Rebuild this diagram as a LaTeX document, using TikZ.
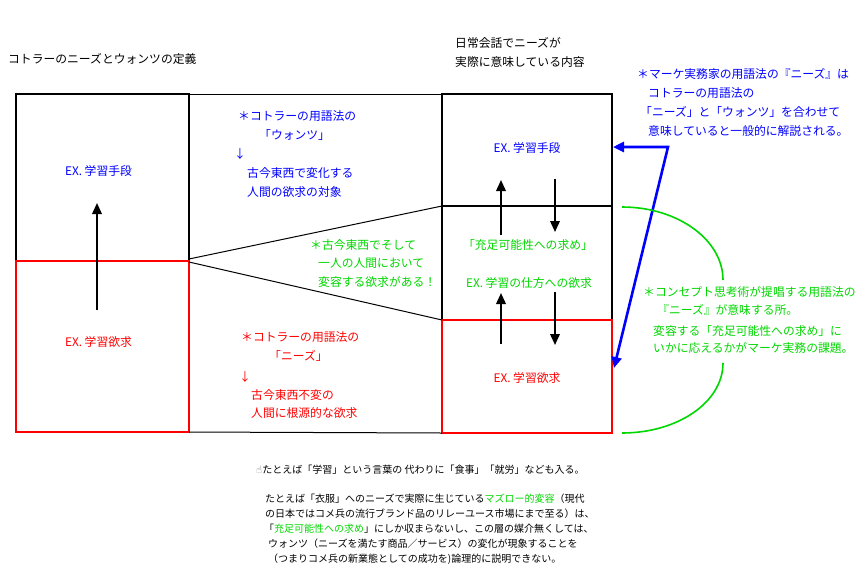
\documentclass[tikz,border=0pt]{standalone}
\usepackage{fontspec}
\setmainfont{Noto Sans CJK JP}
\newfontfamily\dejavu{DejaVu Sans}
\usetikzlibrary{arrows.meta}
\definecolor{grn}{RGB}{0,215,0}
\definecolor{blu}{RGB}{0,0,255}
\definecolor{rd}{RGB}{255,0,0}
\newcommand\fsA{\fontsize{11.8pt}{14pt}\selectfont}
\newcommand\fsB{\fontsize{10pt}{12pt}\selectfont}
\tikzset{
  box/.style={draw, line width=2pt, inner sep=0pt, outer sep=0pt},
  blk/.style={box, draw=black},
  redbox/.style={box, draw=rd},
  thin/.style={line width=1pt, black},
  uparrow/.style={line width=2pt, -{Triangle[width=9.5pt,length=11pt]}},
  bluearrow/.style={line width=2.6pt, blu, {Triangle[width=10pt,length=11pt]}-{Triangle[width=10pt,length=11pt]}},
  greenarc/.style={line width=1.6pt, grn},
  tx/.style={anchor=base west, inner sep=0pt, font=\fsA},
  tc/.style={anchor=base, inner sep=0pt, font=\fsA},
  tb/.style={anchor=base west, inner sep=0pt, font=\fsB},
}
\begin{document}
\begin{tikzpicture}[x=1pt, y=-1pt]
\useasboundingbox[fill=white] (0,0) rectangle (867,584);

% boxes
\node[blk, minimum width=173pt, minimum height=167pt] (L1) at (102.5,177.5) {};
\node[blk, minimum width=170pt, minimum height=112pt] (R1) at (527,150) {};
\node[blk, minimum width=170pt, minimum height=114pt] (R2) at (527,263) {};
\node[redbox, minimum width=173pt, minimum height=171pt] (L2) at (102.5,346.5) {};
\node[redbox, minimum width=170pt, minimum height=113pt] (R3) at (527,376.5) {};

% connecting thin lines
\draw[thin] (L1.north east) -- (R1.north west);
\draw[thin] (L2.south east) -- (R3.south west);
\draw[thin] ([yshift=2pt]L1.south east) -- (R1.south west);
\draw[thin] ([yshift=-1pt]L2.north east) -- (R3.north west);

% arrows
\coordinate (la0) at (97,310); \coordinate (la1) at (97,203);
\draw[uparrow] (la0) -- (la1);
\coordinate (u1a) at (501,235); \coordinate (u1b) at (501,180);
\coordinate (d1a) at (555,179); \coordinate (d1b) at (555,232);
\coordinate (u2a) at (501,344); \coordinate (u2b) at (501,293);
\coordinate (d2a) at (555,292); \coordinate (d2b) at (555,345);
\draw[uparrow] (u1a) -- (u1b);
\draw[uparrow] (d1a) -- (d1b);
\draw[uparrow] (u2a) -- (u2b);
\draw[uparrow] (d2a) -- (d2b);

% blue double arrow
\coordinate (bt) at (613,147);
\coordinate (bc) at (668,147);
\coordinate (bb) at (614,368);
\draw[bluearrow] (bt) -- (bc) -- (bb);

% green brace-like arcs
\coordinate (g1) at (622,207); \coordinate (g2) at (723,280);
\coordinate (g3) at (723,363); \coordinate (g4) at (622,433);
\draw[greenarc] (g1) .. controls (678,207) and (723,240) .. (g2);
\draw[greenarc] (g3) .. controls (723,402) and (678,433) .. (g4);

% titles
\node[tx] (t1) at (8,63) {コトラーのニーズとウォンツの定義};
\node[tx] (t2) at (455,47.5) {日常会話でニーズが};
\node[tx] (t3) at (455,66.5) {実際に意味している内容};

% blue top-right
\node[tx, text=blu] (b1) at (637,78.5) {＊マーケ実務家の用語法の『ニーズ』は};
\node[tx, text=blu] (b2) at (648,97) {コトラーの用語法の};
\node[tx, text=blu] (b3) at (640,116) {「ニーズ」と「ウォンツ」を合わせて};
\node[tx, text=blu] (b4) at (648,135) {意味していると一般的に解説される。};
% blue middle
\node[tx, text=blu] (m1) at (238,120.5) {＊コトラーの用語法の};
\node[tx, text=blu] (m2) at (259,139.5) {「ウォンツ」};
\node[tx, text=blu] (m3) at (234,158.5) {↓};
\node[tx, text=blu] (m4) at (247,177) {古今東西で変化する};
\node[tx, text=blu] (m5) at (247,196.5) {人間の欲求の対象};

% green middle
\node[tx, text=grn] (g5) at (310,249.5) {＊古今東西でそして};
\node[tx, text=grn] (g6) at (318,267.5) {一人の人間において};
\node[tx, text=grn] (g7) at (318,286.5) {変容する欲求がある！};

% red middle
\node[tx, text=rd] (r1) at (241,341.5) {＊コトラーの用語法の};
\node[tx, text=rd] (r2) at (269,360.5) {「ニーズ」};
\node[tx, text=rd] (r3) at (239,381.5) {↓};
\node[tx, text=rd] (r4) at (251,399.5) {古今東西不変の};
\node[tx, text=rd] (r5) at (251,417.5) {人間に根源的な欲求};

% box labels
\node[tc, text=blu] (e1) at (98.5,175.5) {EX. 学習手段};
\node[tc, text=rd] (e2) at (98.5,346.5) {EX. 学習欲求};
\node[tc, text=blu] (e3) at (527,152.5) {EX. 学習手段};
\node[tc, text=grn] (e4) at (528,249.5) {「充足可能性への求め」};
\node[tc, text=grn] (e5) at (529,287.5) {EX. 学習の仕方への欲求};
\node[tc, text=rd] (e6) at (527,382.5) {EX. 学習欲求};

% green right
\node[tx, text=grn] (c1) at (643,296.5) {＊コンセプト思考術が提唱する用語法の};
\node[tx, text=grn] (c2) at (657,314.5) {『ニーズ』が意味する所。};
\node[tx, text=grn] (c3) at (653,335.5) {変容する「充足可能性への求め」に};
\node[tx, text=grn] (c4) at (653,352.5) {いかに応えるかがマーケ実務の課題。};

% bottom notes
\node[tb] (n1) at (256,473) {{\dejavu\fontsize{10pt}{12pt}\selectfont\color{black!55}☝}たとえば「学習」という言葉の 代わりに「食事」「就労」なども入る。};
\node[tb] (n2) at (265,502) {たとえば「衣服」へのニーズで実際に生じている\textcolor{grn}{マズロー的変容}（現代};
\node[tb] (n3) at (265,517) {の日本ではコメ兵の流行ブランド品のリレーユース市場にまで至る）は、};
\node[tb] (n4) at (264,532) {「\textcolor{grn}{充足可能性への求め}」にしか収まらないし、この層の媒介無くしては、};
\node[tb] (n5) at (268,547) {ウォンツ（ニーズを満たす商品／サービス）の変化が現象することを};
\node[tb] (n6) at (268,562) {（つまりコメ兵の新業態としての成功を)論理的に説明できない。};
\end{tikzpicture}
\end{document}
